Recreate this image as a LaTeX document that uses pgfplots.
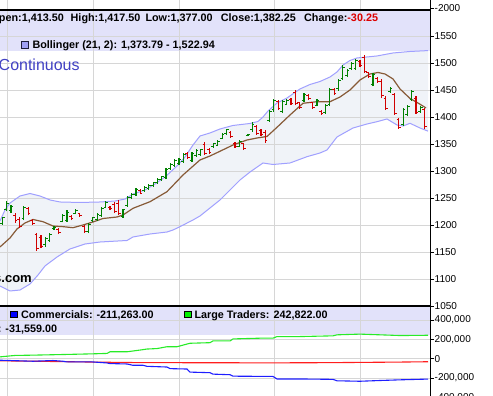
\documentclass[border=0pt]{standalone}
\usepackage{pgfplots}
\pgfplotsset{compat=1.18}
\usepackage{pgfplotstable}
\usepgfplotslibrary{fillbetween}
\usepackage{fontspec}
\setmainfont{Liberation Sans}

\definecolor{lav}{RGB}{226,226,250}
\definecolor{gridc}{RGB}{214,214,214}
\definecolor{bandfill}{RGB}{240,243,248}
\definecolor{bandline}{RGB}{160,160,255}
\definecolor{smac}{RGB}{135,90,55}
\definecolor{gbar}{RGB}{0,128,0}
\definecolor{rbar}{RGB}{208,0,0}
\definecolor{chg}{RGB}{220,0,0}
\definecolor{contc}{RGB}{65,65,195}
\definecolor{lgreen}{RGB}{40,235,40}
\definecolor{lblue}{RGB}{30,30,255}
\definecolor{lred}{RGB}{255,30,30}
\definecolor{bsq}{RGB}{160,160,245}

\pgfdeclareplotmark{otick}{\pgfpathmoveto{\pgfqpoint{-2.2pt}{0pt}}\pgfpathlineto{\pgfqpoint{0pt}{0pt}}\pgfusepathqstroke}
\pgfdeclareplotmark{ctick}{\pgfpathmoveto{\pgfqpoint{0pt}{0pt}}\pgfpathlineto{\pgfqpoint{2.2pt}{0pt}}\pgfusepathqstroke}

% OHLC bars: i = bar index (x pixel = 2.3 + 4.31 i)
\pgfplotstableread{
i H L O C
0 1215 1200 1203 1213
1 1244 1225 1228 1240
2 1237 1222 1226 1234
5 1235 1209 1212 1232
10 1178 1160 1163 1175
11 1185 1169 1172 1182
12 1198 1191 1193 1196
14 1220 1205 1207 1217
15 1227 1206 1209 1224
17 1230 1220 1222 1227
20 1204 1185 1188 1201
21 1215 1206 1208 1213
22 1223 1207 1210 1220
23 1234 1215 1218 1231
24 1245 1231 1233 1242
28 1230 1213 1215 1228
29 1254 1234 1237 1251
30 1260 1248 1250 1257
31 1268 1254 1256 1265
33 1272 1262 1264 1270
34 1276 1265 1267 1273
35 1280 1271 1273 1278
36 1287 1276 1278 1285
37 1291 1282 1284 1289
38 1305 1285 1288 1302
39 1315 1302 1304 1312
40 1322 1308 1310 1319
41 1324 1311 1313 1321
42 1333 1315 1318 1330
44 1336 1317 1320 1333
45 1341 1326 1328 1338
46 1341 1328 1330 1339
49 1352 1343 1345 1350
50 1357 1346 1348 1355
51 1370 1359 1361 1368
52 1378 1367 1369 1376
55 1357 1344 1346 1355
57 1369 1364 1365 1368
58 1390 1373 1376 1387
62 1413 1391 1394 1410
63 1433 1410 1413 1430
65 1431 1407 1410 1428
66 1433 1422 1424 1431
70 1444 1428 1430 1441
73 1433 1420 1422 1430
75 1424 1406 1409 1421
76 1454 1420 1423 1450
78 1470 1449 1452 1467
79 1496 1469 1472 1492
80 1489 1474 1477 1486
81 1502 1487 1489 1499
82 1507 1487 1490 1504
86 1481 1457 1460 1478
90 1456 1445 1447 1453
93 1417 1383 1386 1414
94 1422 1401 1404 1419
95 1450 1430 1433 1447
97 1420 1408 1410 1417
}\greenbars

\pgfplotstableread{
i H L O C
3 1222 1204 1218 1208
4 1215 1194 1210 1197
6 1233 1218 1230 1222
7 1211 1200 1208 1203
8 1186 1152 1182 1156
9 1181 1157 1176 1160
13 1194 1183 1192 1186
16 1218 1209 1216 1212
18 1223 1215 1221 1218
19 1200 1185 1198 1188
25 1235 1228 1233 1230
26 1243 1222 1238 1225
27 1246 1219 1240 1222
32 1266 1257 1264 1259
43 1336 1322 1333 1325
47 1354 1330 1349 1333
48 1343 1331 1340 1334
53 1374 1361 1372 1364
54 1354 1343 1351 1346
56 1352 1339 1350 1342
59 1385 1367 1382 1370
60 1378 1365 1375 1368
61 1376 1352 1372 1356
64 1431 1413 1428 1416
67 1435 1422 1433 1425
68 1450 1422 1445 1425
69 1428 1415 1426 1418
71 1442 1431 1440 1434
72 1428 1415 1426 1418
74 1413 1404 1411 1407
77 1454 1441 1451 1444
83 1505 1493 1503 1496
84 1515 1481 1510 1484
85 1484 1472 1482 1475
87 1474 1463 1472 1466
88 1470 1435 1466 1439
89 1438 1413 1435 1416
91 1445 1404 1441 1407
92 1398 1378 1395 1381
96 1438 1406 1434 1409
98 1417.5 1377 1413.5 1382.25
}\redbars

\pgfplotstableread{
x P
0 1207.4
5 1227.8
10 1240.7
20 1253.7
30 1258.3
40 1253.7
50 1246.3
60 1242.6
80 1241.7
100 1242.6
115 1244.4
125 1248.1
133 1257.4
145 1264.8
155 1276.0
165 1288.9
177 1309.3
185 1325.9
193 1348.1
200 1364.8
210 1370.4
220 1377.8
233 1384.3
250 1388.0
258 1391.7
263 1400.0
268 1411.1
277 1425.9
287 1435.2
300 1451.9
310 1460.2
320 1465.7
330 1474.1
337 1483.3
343 1496.3
350 1504.6
357 1509.3
377 1513.0
393 1518.5
410 1521.3
428 1522.94
}\upperband

\pgfplotstableread{
x P
0 1087.1
10 1077.8
20 1079.6
30 1090.7
38 1107.4
45 1124.1
57 1140.7
70 1155.6
85 1164.8
100 1168.5
127 1171.3
133 1177.8
150 1183.3
167 1187.0
173 1190.7
180 1196.9
193 1209.3
200 1216.7
210 1231.5
220 1246.3
232 1268.5
240 1283.3
250 1298.1
263 1314.8
273 1312.0
290 1314.8
307 1326.5
320 1333.3
327 1338.9
337 1363.0
353 1379.6
367 1387.0
377 1391.3
387 1396.3
397 1385.2
403 1383.3
410 1388.3
420 1379.6
428 1373.79
}\lowerband

\pgfplotstableread{
x P
0 1159.3
10 1176.0
17 1192.6
25 1203.7
33 1210.2
43 1206.1
53 1198.1
63 1196.9
73 1195.0
83 1200.0
93 1205.6
103 1212.0
117 1214.8
123 1218.5
133 1230.9
150 1243.1
167 1261.7
183 1292.6
200 1320.4
210 1327.8
217 1333.9
233 1348.1
247 1357.4
257 1361.1
267 1363.9
277 1380.9
290 1403.7
303 1425.4
317 1428.3
330 1428.3
340 1437.0
350 1450.0
360 1468.5
370 1479.6
378 1482.4
385 1479.6
393 1470.4
400 1451.9
410 1434.3
418 1425.9
426 1416.7
}\midline

\pgfplotstableread{
x V
0 19000
15 33700
33 36800
67 44200
93 50500
107 54700
110 71600
127 71600
140 89500
147 100000
157 105000
167 124000
177 124000
190 160000
210 166000
213 184000
230 184000
233 205000
260 212600
273 212600
277 229500
300 229500
333 236800
337 247400
360 254700
380 247400
400 240000
428 242822
}\largetr

\pgfplotstableread{
x V
0 -15800
33 -26300
53 -19000
63 -26300
67 -33700
93 -33700
107 -44200
110 -50500
127 -54700
133 -68400
143 -68400
147 -79000
167 -86300
170 -103000
187 -107000
190 -139000
210 -145000
213 -160000
230 -166000
233 -181000
273 -184000
277 -210000
300 -210000
333 -214000
337 -229000
360 -233700
380 -226000
400 -219000
428 -211263
}\commerc

\pgfplotstableread{
x V
0 -22000
33 -26000
67 -31000
100 -36000
133 -40000
200 -42000
277 -43000
330 -41000
400 -35000
428 -31559
}\smalltr

\pgfplotsset{
  bgpanel/.style={
    scale only axis, width=430pt, xmin=0, xmax=430,
    anchor=south west, axis lines=none, xtick=\empty, ytick=\empty,
  },
  panel/.style={
    scale only axis, width=430pt, xmin=0, xmax=430,
    anchor=south west,
    axis y line*=right, axis x line*=bottom,
    x axis line style={draw=none},
    xtick={7,93,179,274,360}, xticklabels={}, xtick style={draw=none},
    y axis line style={black, line width=0.8pt},
    ytick style={black, line width=0.8pt},
    tick align=outside, major tick length=3.5pt,
    xmajorgrids=true, ymajorgrids=true,
    major grid style={gridc, line width=0.9pt},
    ticklabel style={font=\fontsize{10}{12}\selectfont},
    yticklabel style={inner sep=1pt},
    /pgf/number format/assume math mode=true,
  },
  hlbar/.style={draw=none, mark=none, forget plot,
    error bars/.cd, y dir=plus, y explicit, error mark=none,
    error bar style={draw=#1, line width=1.2pt}},
}

\begin{document}
\begin{tikzpicture}

% ---------- mini panel at top ----------
\begin{axis}[panel, at={(0pt,386pt)}, height=10pt,
  ymin=-2040, ymax=-1840, ytick={-2000}, ymajorgrids=false,
  /pgf/number format/1000 sep={}]
\addplot[draw=none, forget plot] coordinates {(0,-1900) (430,-1900)};
\end{axis}

% ---------- price panel background ----------
\begin{axis}[bgpanel, at={(0pt,90pt)}, height=296pt, ymin=1050, ymax=1598.1]
\addplot[fill=lav, draw=none]
  coordinates {(0,1522.2) (0,1598.1) (430,1598.1) (430,1522.2)} -- cycle;
\addplot[name path=up, draw=none] table[x=x, y=P] {\upperband};
\addplot[name path=lo, draw=none] table[x=x, y=P] {\lowerband};
\addplot[fill=bandfill, draw=none] fill between[of=up and lo];
\end{axis}

% ---------- price panel ----------
\begin{axis}[panel, at={(0pt,90pt)}, height=296pt,
  ymin=1050, ymax=1598.1, ytick={1050,1100,...,1550},
  /pgf/number format/1000 sep={}]
\addplot[bandline, line width=1pt, mark=none] table[x=x, y=P] {\upperband};
\addplot[bandline, line width=1pt, mark=none] table[x=x, y=P] {\lowerband};
\addplot[smac, line width=1.2pt, mark=none] table[x=x, y=P] {\midline};
% green bars
\addplot[hlbar=gbar]
  table[x expr=2.3+4.31*\thisrow{i}, y=L, y error expr=\thisrow{H}-\thisrow{L}] {\greenbars};
\addplot[only marks, mark=otick, gbar, mark options={line width=1pt}]
  table[x expr=2.3+4.31*\thisrow{i}, y=O] {\greenbars};
\addplot[only marks, mark=ctick, gbar, mark options={line width=1pt}]
  table[x expr=2.3+4.31*\thisrow{i}, y=C] {\greenbars};
% red bars
\addplot[hlbar=rbar]
  table[x expr=2.3+4.31*\thisrow{i}, y=L, y error expr=\thisrow{H}-\thisrow{L}] {\redbars};
\addplot[only marks, mark=otick, rbar, mark options={line width=1pt}]
  table[x expr=2.3+4.31*\thisrow{i}, y=O] {\redbars};
\addplot[only marks, mark=ctick, rbar, mark options={line width=1pt}]
  table[x expr=2.3+4.31*\thisrow{i}, y=C] {\redbars};
\end{axis}

% ---------- COT panel background ----------
\begin{axis}[bgpanel, at={(0pt,-1.3pt)}, height=91.3pt, ymin=-400000, ymax=546100]
\addplot[fill=lav, draw=none]
  coordinates {(0,248000) (0,546100) (430,546100) (430,248000)} -- cycle;
\end{axis}

% ---------- COT panel ----------
\begin{axis}[panel, at={(0pt,-1.3pt)}, height=91.3pt,
  ymin=-400000, ymax=546100,
  ytick={-400000,-200000,0,200000,400000},
  yticklabels={{-400,000},{-200,000},{0},{200,000},{400,000}},
  scaled y ticks=false]
\addplot[lred, line width=1.1pt, mark=none] table[x=x, y=V] {\smalltr};
\addplot[lgreen, line width=1.1pt, mark=none] table[x=x, y=V] {\largetr};
\addplot[lblue, line width=1.1pt, mark=none] table[x=x, y=V] {\commerc};
\end{axis}

% panel separators
\draw[line width=1.3pt] (0pt,386pt) -- (430pt,386pt);
\draw[line width=1.3pt] (0pt,90pt) -- (430pt,90pt);

% header texts
\begin{scope}[every node/.style={inner sep=0pt, font=\fontsize{10.8}{13}\selectfont\bfseries}]
\node[anchor=base east] at (64pt,374.3pt) {Open:1,413.50};
\node[anchor=base west] at (70.5pt,374.3pt) {High:1,417.50};
\node[anchor=base west] at (145.3pt,374.3pt) {Low:1,377.00};
\node[anchor=base west] at (220.7pt,374.3pt) {Close:1,382.25};
\node[anchor=base west] at (304pt,374.3pt) {Change:\textcolor{chg}{-30.25}};
\node[anchor=base west] at (32.3pt,347.4pt) {Bollinger (21, 2): 1,373.79 - 1,522.94};
\node[anchor=base west] at (21pt,77pt) {Commercials: -211,263.00};
\node[anchor=base west] at (194.3pt,77pt) {Large Traders: 242,822.00};
\node[anchor=base east] at (57.3pt,63.3pt) {Small Traders: -31,559.00};
\end{scope}
\draw[fill=bsq, draw={rgb,255:red,30;green,30;blue,60}, line width=0.8pt] (21.5pt,347.8pt) rectangle (28.5pt,354.8pt);
\draw[fill=blue, draw=black, line width=0.8pt] (10.5pt,78.3pt) rectangle (17pt,84.8pt);
\draw[fill={rgb,255:red,0;green,240;blue,0}, draw=black, line width=0.8pt] (184.5pt,78.3pt) rectangle (191pt,84.8pt);

\node[anchor=base west, inner sep=0pt, text=contc, font=\fontsize{16}{19}\selectfont] at (-1.5pt,325pt) {Continuous};
\node[anchor=base east, inner sep=0pt, font=\fontsize{13}{15}\selectfont\bfseries] at (32pt,113pt) {s.com};

\pgfresetboundingbox
\useasboundingbox (0pt,0pt) rectangle (493pt,396pt);
\end{tikzpicture}
\end{document}
